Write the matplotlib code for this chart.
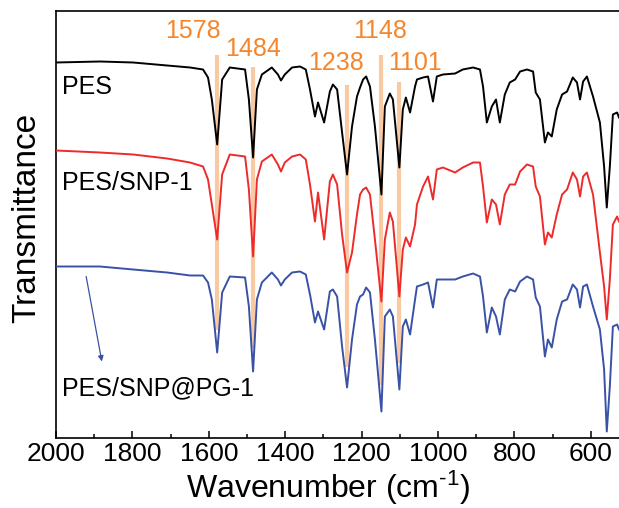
import matplotlib
matplotlib.use('Agg')
import matplotlib.pyplot as plt
from matplotlib.ticker import MultipleLocator

plt.rcParams['font.family'] = ['Liberation Sans', 'DejaVu Sans']
plt.rcParams['mathtext.default'] = 'regular'

# ---- data (transmittance in arbitrary units) ----
wavenumber = [2000, 1885, 1798, 1709, 1649, 1615, 1602, 1592, 1578, 1565,
              1545, 1505, 1495, 1484, 1474, 1461, 1435, 1419, 1411, 1401,
              1382, 1361, 1346, 1335, 1322, 1314, 1298, 1283, 1275, 1264,
              1251, 1238, 1225, 1212, 1204, 1196, 1188, 1178, 1165, 1148,
              1139, 1126, 1118, 1101, 1092, 1084, 1073, 1060, 1055, 1039,
              1026, 1013, 1003, 987, 955, 935, 908, 890, 882, 872,
              859, 848, 838, 825, 812, 798, 785, 767, 751, 744,
              733, 720, 712, 702, 689, 675, 662, 647, 636, 628,
              620, 610, 594, 576, 565, 558, 550, 542, 531, 526]

t_pes = [375, 376, 375, 372, 370, 368, 360, 338, 293, 358,
         370, 368, 338, 280, 348, 363, 370, 363, 357, 363,
         370, 371, 368, 348, 321, 335, 315, 346, 353, 348,
         305, 263, 311, 341, 350, 358, 361, 351, 311, 243,
         331, 344, 338, 270, 328, 340, 325, 351, 358, 360,
         361, 336, 361, 363, 364, 368, 370, 368, 351, 315,
         331, 338, 315, 343, 355, 358, 366, 368, 366, 345,
         338, 295, 305, 301, 328, 343, 346, 360, 355, 338,
         356, 361, 341, 315, 271, 230, 271, 323, 325, 320]

t_snp = [287, 285, 283, 279, 275, 271, 258, 233, 198, 263,
         283, 281, 248, 181, 258, 276, 283, 273, 266, 275,
         281, 283, 278, 253, 216, 245, 198, 256, 263, 253,
         203, 165, 185, 223, 243, 248, 250, 243, 198, 136,
         198, 225, 216, 141, 188, 200, 191, 213, 233, 251,
         261, 238, 268, 270, 265, 270, 275, 275, 251, 215,
         238, 233, 213, 243, 253, 253, 266, 273, 271, 251,
         241, 193, 205, 200, 223, 243, 248, 265, 258, 241,
         261, 265, 243, 185, 151, 118, 158, 213, 221, 216]

t_pg = [171, 171, 168, 165, 162, 162, 155, 138, 85, 145,
        161, 160, 131, 66, 138, 155, 165, 158, 152, 158,
        165, 166, 163, 143, 115, 126, 108, 146, 148, 141,
        91, 50, 98, 133, 141, 143, 150, 145, 98, 26,
        121, 128, 121, 48, 111, 118, 103, 138, 151, 153,
        155, 130, 158, 158, 158, 161, 164, 161, 141, 105,
        130, 121, 103, 138, 148, 146, 156, 161, 158, 140,
        131, 81, 98, 90, 118, 136, 138, 153, 148, 130,
        151, 153, 131, 108, 68, 6, 51, 111, 113, 108]

sample_names = ['PES', 'PES/SNP-1', 'PES/SNP@PG-1']
peak_wn = [1578, 1484, 1238, 1148, 1101]
peak_labels = ['1578', '1484', '1238', '1148', '1101']
x_ticks = [2000, 1800, 1600, 1400, 1200, 1000, 800, 600]

# ---- layout / style ----
W, H = 619, 508
fig = plt.figure(figsize=(W / 100, H / 100), dpi=100)
left_px, top_px, bottom_px = 56, 10.7, 437.5
ax = fig.add_axes([left_px / W, 1 - bottom_px / H, 1 - left_px / W,
                   (bottom_px - top_px) / H])

c_black, c_red, c_blue = '#000000', '#EE2B2B', '#3A52A6'
c_orange_txt, c_orange_line = '#F5862C', '#F9C9A2'

# orange marker lines (behind curves)
line_top = [383, 371, 353, 383, 356]
line_bot = [108, 90, 71, 53, 75]
for wn, t0, t1 in zip(peak_wn, line_bot, line_top):
    ax.vlines(wn, t0, t1, color=c_orange_line, lw=3.0, zorder=1)

ax.plot(wavenumber, t_pes, color=c_black, lw=1.4, zorder=3)
ax.plot(wavenumber, t_snp, color=c_red, lw=1.4, zorder=3)
ax.plot(wavenumber, t_pg, color=c_blue, lw=1.4, zorder=3)

# peak labels
lab_pos = [(1641, 406), (1484, 388), (1267, 375), (1152, 406), (1060, 375)]
for (x, y), s in zip(lab_pos, peak_labels):
    ax.text(x, y, s, color=c_orange_txt, fontsize=18, ha='center', va='center')

# sample labels
for y, s in zip([351, 255, 49], sample_names):
    ax.text(1984, y, s, color='black', fontsize=18, ha='left', va='center')

ax.annotate('', xy=(1880, 76), xytext=(1921, 161),
            arrowprops=dict(arrowstyle='-|>', color=c_blue, lw=0.9,
                            mutation_scale=8, shrinkA=0, shrinkB=0))

ax.set_xlim(2000, 526)
ax.set_ylim(0, bottom_px - top_px)
ax.set_xticks(x_ticks)
ax.set_xticklabels([str(t) for t in x_ticks])
ax.xaxis.set_minor_locator(MultipleLocator(100))
ax.set_yticks([])
ax.tick_params(axis='x', which='major', direction='in', length=5.2, width=1.1,
               labelsize=19, pad=3, top=False)
ax.tick_params(axis='x', which='minor', direction='in', length=3.0, width=1.1,
               top=False)
for sp in ['left', 'top', 'bottom']:
    ax.spines[sp].set_linewidth(1.2)
ax.spines['right'].set_visible(False)

fig.text(328 / W, 1 - 498 / H, 'Wavenumber (cm$^{\u2010 1}$)', fontsize=23,
         ha='center', va='baseline')
fig.text(27 / W, 1 - 218 / H, 'Transmittance', fontsize=24, rotation=90,
         ha='center', va='center')

fig.savefig('out.png', dpi=100)
